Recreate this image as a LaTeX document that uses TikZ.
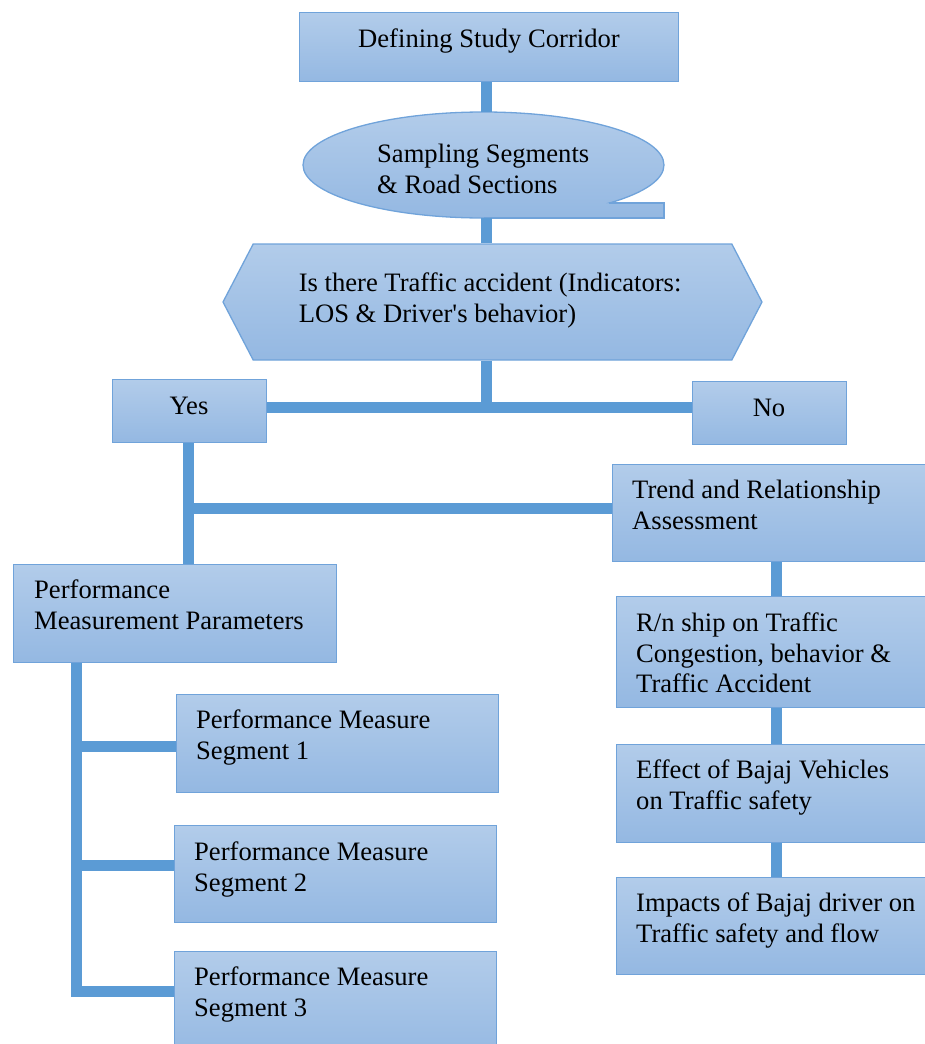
\documentclass[tikz,border=0pt]{standalone}
\usepackage{fontspec}
\setmainfont{Liberation Serif}
\usetikzlibrary{shapes.geometric,shapes.symbols,calc}
\definecolor{topc}{RGB}{178,204,234}
\definecolor{botc}{RGB}{148,184,226}
\definecolor{notchc}{RGB}{152,187,227}
\definecolor{edgec}{RGB}{112,163,218}
\definecolor{linec}{RGB}{91,155,213}
\begin{document}
\begin{tikzpicture}[x=1pt,y=-1pt,
  box/.style={rectangle, draw=edgec, line width=1.3pt, top color=topc, bottom color=botc, inner sep=0pt, anchor=north west},
  txt/.style={anchor=base west, align=left, inner sep=0pt, font=\fontsize{26.6}{30.5}\selectfont},
  conn/.style={draw=linec, line width=11pt}]
\useasboundingbox (0,0) rectangle (925,1044);

% boxes
\node[box, minimum width=379pt, minimum height=69pt] (def) at (299,12) {};
\node[ellipse, top color=topc, bottom color=botc, inner sep=0pt,
      minimum width=361pt, minimum height=106pt] (ell) at (483.5,165) {};
\shade[top color=notchc, bottom color=botc] (484,203) rectangle (664,218);
\begin{scope}
  \clip (290,100) rectangle (700,203) (290,100) rectangle (484,230);
  \draw[edgec, line width=1.3pt] (483.5,165) ellipse [x radius=180.5, y radius=53];
\end{scope}
\draw[edgec, line width=1.3pt] (609,203) -- (664,203) -- (664,218) -- (484,218);
\node[signal, signal to=west and east, signal pointer angle=125, draw=edgec, line width=1.3pt,
      top color=topc, bottom color=botc, inner sep=0pt,
      minimum width=539pt, minimum height=116pt] (q) at (492.5,302) {};
\node[box, minimum width=154pt, minimum height=63pt] (yes) at (112,379) {};
\node[box, minimum width=154pt, minimum height=63pt] (no) at (692,381) {};
\node[box, minimum width=330pt, minimum height=97pt] (trend) at (612,464) {};
\node[box, minimum width=323pt, minimum height=98pt] (perf) at (13,564) {};
\node[box, minimum width=320pt, minimum height=111pt] (rn) at (616,596) {};
\node[box, minimum width=320pt, minimum height=98pt] (eff) at (616,744) {};
\node[box, minimum width=320pt, minimum height=97pt] (imp) at (616,877) {};
\node[box, minimum width=322pt, minimum height=98pt] (s1) at (176,694) {};
\node[box, minimum width=322pt, minimum height=97pt] (s2) at (174,825) {};
\node[box, minimum width=322pt, minimum height=110pt] (s3) at (174,951) {};

% texts (anchor = baseline of the last line)
\node[txt, anchor=base] (tdef) at (489,47) {Defining Study Corridor};
\begin{scope}
  \clip (300,100) rectangle (700,193.5);
  \node[txt] (tell) at (377,193) {Sampling Segments\\\& Road Sections};
\end{scope}
\node[txt] (tq) at (298.6,322) {Is there Traffic accident (Indicators:\\LOS \& Driver\textquotesingle s behavior)};
\node[txt, anchor=base] (tyes) at (189,414) {Yes};
\node[txt, anchor=base] (tno) at (769,416) {No};
\node[txt] (ttrend) at (632,529) {Trend and Relationship\\Assessment};
\node[txt] (tperf) at (34,629) {Performance\\Measurement Parameters};
\node[txt] (trn) at (636,692.5) {R/n ship on Traffic\\Congestion, behavior \&\\Traffic Accident};
\node[txt] (teff) at (636,809) {Effect of Bajaj Vehicles\\on Traffic safety};
\node[txt] (timp) at (636,942) {Impacts of Bajaj driver on\\Traffic safety and flow};
\node[txt] (ts1) at (196,759) {Performance Measure\\Segment 1};
\node[txt] (ts2) at (194,891) {Performance Measure\\Segment 2};
\node[txt] (ts3) at (194,1016) {Performance Measure\\Segment 3};

% connectors
\coordinate (cx) at (486,0);
\draw[conn] (def.south -| cx) -- (ell.north -| cx);
\draw[conn] (ell.south -| cx) -- (q.north -| cx);
\coordinate (j) at (486,407.5);
\draw[conn] (q.south -| cx) -- (j);
\draw[conn] (yes.east |- j) -- (no.west |- j);
\coordinate (lx) at (188,508.5);
\draw[conn] (yes.south -| lx) -- (perf.north -| lx);
\draw[conn] (lx) -- (trend.west |- lx);
\coordinate (rx) at (776,0);
\draw[conn] (trend.south -| rx) -- (rn.north -| rx);
\draw[conn] (rn.south -| rx) -- (eff.north -| rx);
\draw[conn] (eff.south -| rx) -- (imp.north -| rx);
\coordinate (sx) at (76,0);
\coordinate (c1) at (76,746.5);
\coordinate (c2) at (76,865);
\coordinate (c3) at (76,991);
\draw[conn, line join=miter] (perf.south -| sx) -- (c3) -- (s3.west |- c3);
\draw[conn] (c1) -- (s1.west |- c1);
\draw[conn] (c2) -- (s2.west |- c2);
\end{tikzpicture}
\end{document}
